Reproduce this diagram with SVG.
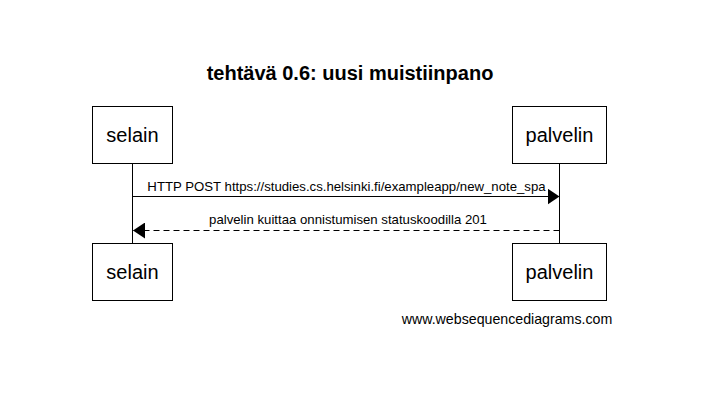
<svg xmlns="http://www.w3.org/2000/svg" width="719" height="409" viewBox="0 0 719 409">
<style>
text{font-family:"Liberation Sans",Arial,sans-serif;fill:#000}
.box{fill:#fff;stroke:#000;stroke-width:1}
.life{stroke:#000;stroke-width:1}
.lbl{font-size:20px;text-anchor:middle}
.msg{font-size:13.2px;text-anchor:middle}
</style>
<defs>
<marker id="ah" markerWidth="12" markerHeight="16" refX="12" refY="8" orient="auto" markerUnits="userSpaceOnUse">
<path d="M0,0 L12,8 L0,16 Z" fill="#000"/>
</marker>
</defs>
<rect width="719" height="409" fill="#fff"/>
<text x="350" y="80" font-size="20" font-weight="bold" text-anchor="middle">tehtävä 0.6: uusi muistiinpano</text>
<g id="lifelines">
<line class="life" x1="132.5" y1="163" x2="132.5" y2="243"/>
<line class="life" x1="559.5" y1="163" x2="559.5" y2="243"/>
</g>
<g id="selain">
<rect class="box" x="92.5" y="106.5" width="80" height="57"/>
<text class="lbl" x="132.5" y="142">selain</text>
</g>
<g id="palvelin">
<rect class="box" x="512.5" y="106.5" width="94" height="57"/>
<text class="lbl" x="559.5" y="142">palvelin</text>
</g>
<g id="selain-bottom">
<rect class="box" x="92.5" y="243.5" width="80" height="57"/>
<text class="lbl" x="132.5" y="279">selain</text>
</g>
<g id="palvelin-bottom">
<rect class="box" x="512.5" y="243.5" width="94" height="57"/>
<text class="lbl" x="559.5" y="279">palvelin</text>
</g>
<g id="connectors">
<line x1="132.5" y1="196.5" x2="559.5" y2="196.5" stroke="#000" marker-end="url(#ah)"/>
<text class="msg" x="346.5" y="191">HTTP POST https://studies.cs.helsinki.fi/exampleapp/new_note_spa</text>
<line x1="559.5" y1="230.5" x2="133" y2="230.5" stroke="#000" stroke-dasharray="6,4" marker-end="url(#ah)"/>
<text class="msg" x="348" y="224">palvelin kuittaa onnistumisen statuskoodilla 201</text>
</g>
<text x="507" y="324" font-size="14.2" text-anchor="middle">www.websequencediagrams.com</text>
</svg>
